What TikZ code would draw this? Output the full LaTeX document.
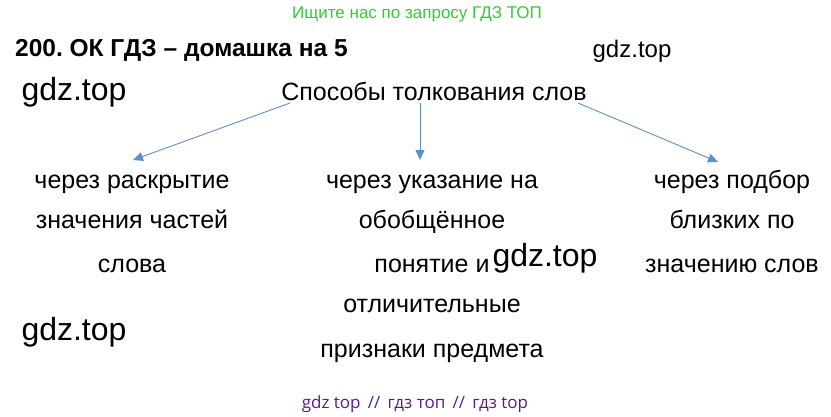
\documentclass[tikz,border=0pt]{standalone}
\usepackage{fontspec}
\setmainfont{Liberation Sans}
\newfontfamily\wmfont{Open Sans}
\usetikzlibrary{arrows.meta}
\frenchspacing
\definecolor{arrowblue}{HTML}{5B8FC9}
\definecolor{wmgreen}{HTML}{33CC33}
\definecolor{wmpurple}{HTML}{5A1A8A}
\tikzset{
  body/.style={anchor=base, inner sep=0pt, font=\fontsize{25}{28}\selectfont},
  wm/.style={anchor=base, inner sep=0pt, font=\fontsize{32}{36}\selectfont},
  link/.style={draw=arrowblue, line width=0.9pt, -{Triangle[width=9pt,length=10pt]}}
}
\begin{document}
\begin{tikzpicture}[x=1pt,y=1pt]
\useasboundingbox (0,0) rectangle (831,-416);
\node[anchor=base, inner sep=0pt, text=wmgreen, font=\fontsize{17}{19}\selectfont] (top) at (417,-18) {Ищите нас по запросу ГДЗ ТОП};
\node[anchor=base west, inner sep=0pt, font=\bfseries\fontsize{24.5}{28}\selectfont] (title) at (15,-56) {200. ОК ГДЗ – домашка на 5};
\node[anchor=base, inner sep=0pt, font=\fontsize{24}{28}\selectfont] (w1) at (632,-57) {gdz.top};
\node[wm] (w2) at (74,-100) {gdz.top};
\node[wm] (w3) at (545,-266) {gdz.top};
\node[wm] (w4) at (74,-340) {gdz.top};
\node[anchor=base, inner sep=0pt, font=\fontsize{25}{28}\selectfont] (root) at (434,-100) {Способы толкования слов};
\coordinate (s1) at (290,-103);
\coordinate (s2) at (420,-103);
\coordinate (s3) at (578,-103);
\coordinate (e1) at (133,-160);
\coordinate (e2) at (420,-160);
\coordinate (e3) at (718,-162);
\draw[link] (s1) -- (e1);
\draw[link] (s2) -- (e2);
\draw[link] (s3) -- (e3);
\node[body] (a1) at (132,-188) {через раскрытие};
\node[body] (a2) at (132,-228) {значения частей};
\node[body] (a3) at (132,-272) {слова};
\node[body] (b1) at (432,-188) {через указание на};
\node[body] (b2) at (432,-228) {обобщённое};
\node[body] (b3) at (432,-272) {понятие и};
\node[body] (b4) at (432,-312) {отличительные};
\node[body] (b5) at (432,-357) {признаки предмета};
\node[body] (c1) at (732,-188) {через подбор};
\node[body] (c2) at (732,-228) {близких по};
\node[body] (c3) at (732,-272) {значению слов};
\node[anchor=base, inner sep=0pt, text=wmpurple, font=\wmfont\fontsize{17}{20}\selectfont] (bot) at (415,-408) {gdz top \,//\, гдз топ \,//\, гдз top};
\end{tikzpicture}
\end{document}
